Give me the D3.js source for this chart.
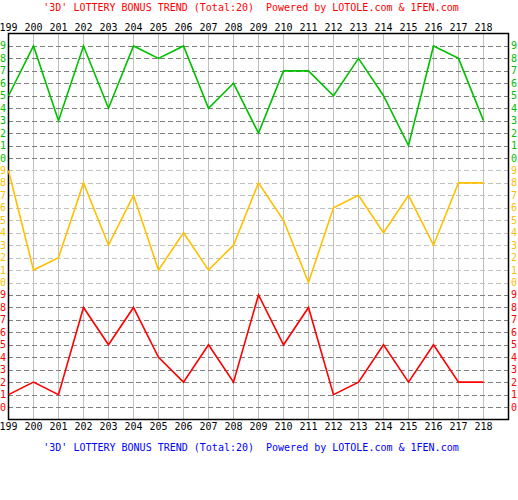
<!DOCTYPE html>
<html>
<head>
<meta charset="utf-8">
<script src="https://cdn.jsdelivr.net/npm/d3@7"></script>
<style>
  body { margin: 0; background: #fff; }
  svg { display: block; font-family: "DejaVu Sans Mono", monospace; font-size: 10px; }
</style>
</head>
<body>
<div id="chart"></div>
<script>
// draw periods and the three digit series (top, middle, bottom band)
var periods = ["199", "200", "201", "202", "203", "204", "205", "206", "207", "208",
               "209", "210", "211", "212", "213", "214", "215", "216", "217", "218"];
var digitA = [5, 9, 3, 9, 4, 9, 8, 9, 4, 6, 2, 7, 7, 5, 8, 5, 1, 9, 8, 3];
var digitB = [9, 1, 2, 8, 3, 7, 1, 4, 1, 3, 8, 5, 0, 6, 7, 4, 7, 3, 8, 8];
var digitC = [1, 2, 1, 8, 5, 8, 4, 2, 5, 2, 9, 5, 8, 1, 2, 5, 2, 5, 2, 2];
var digits = [9, 8, 7, 6, 5, 4, 3, 2, 1, 0];
var titleText = "'3D' LOTTERY BONUS TREND (Total:20)  Powered by LOTOLE.com & 1FEN.com";

var width = 518, height = 500;
var bands = [
    { values: digitA, color: "#00c000", dash: "#808080" },
    { values: digitB, color: "#ffc000", dash: "#c0c0c0" },
    { values: digitC, color: "#ff0000", dash: "#808080" }
];

// one slot per period plus an empty one on the right
var x = d3.scaleLinear().domain([0, periods.length]).range([8, 508]);
// 31 rows: border, 10 digits per band x3
var y = d3.scaleLinear().domain([0, 31]).range([33.5, 419.5]);

function row(band, v) { return band * 10 + (10 - v); }

var svg = d3.select("#chart").append("svg")
    .attr("width", width)
    .attr("height", height);

// vertical grid
svg.append("g")
    .selectAll("line")
    .data(d3.range(1, periods.length))
    .join("line")
    .attr("x1", function (i) { return x(i) + 0.5; })
    .attr("x2", function (i) { return x(i) + 0.5; })
    .attr("y1", y(0))
    .attr("y2", y(31))
    .attr("stroke", "#c0c0c0")
    .attr("stroke-width", 1);

// dashed horizontal lines + digit labels on both sides
bands.forEach(function (b, bi) {
    var g = svg.append("g");
    g.selectAll("line")
        .data(digits)
        .join("line")
        .attr("x1", x(0))
        .attr("x2", x(periods.length))
        .attr("y1", function (d) { return Math.round(y(row(bi, d))) + 0.5; })
        .attr("y2", function (d) { return Math.round(y(row(bi, d))) + 0.5; })
        .attr("stroke", b.dash)
        .attr("stroke-dasharray", "5,3");

    g.selectAll("text.left")
        .data(digits)
        .join("text")
        .attr("class", "left")
        .attr("x", 6)
        .attr("y", function (d) { return y(row(bi, d)); })
        .attr("dy", "0.35em")
        .attr("text-anchor", "end")
        .attr("fill", b.color)
        .text(function (d) { return d; });

    g.selectAll("text.right")
        .data(digits)
        .join("text")
        .attr("class", "right")
        .attr("x", 511)
        .attr("y", function (d) { return y(row(bi, d)); })
        .attr("dy", "0.35em")
        .attr("fill", b.color)
        .text(function (d) { return d; });
});

// frame
svg.append("rect")
    .attr("x", x(0) + 0.5)
    .attr("y", y(0))
    .attr("width", x(periods.length) - x(0))
    .attr("height", y(31) - y(0))
    .attr("fill", "none")
    .attr("stroke", "#000")
    .attr("stroke-width", 1.5);

// trend lines
bands.forEach(function (b, bi) {
    var line = d3.line()
        .x(function (d, i) { return x(i) + 0.5; })
        .y(function (d) { return y(row(bi, d)); });
    svg.append("path")
        .datum(b.values)
        .attr("fill", "none")
        .attr("stroke", b.color)
        .attr("stroke-width", 1.6)
        .attr("d", line);
});

// period labels top and bottom
var xTop = d3.axisTop(x)
    .tickValues(d3.range(periods.length))
    .tickFormat(function (i) { return periods[i]; })
    .tickSize(0)
    .tickPadding(0);
svg.append("g")
    .attr("transform", "translate(0,31)")
    .call(xTop)
    .call(function (g) { g.select(".domain").remove(); })
    .selectAll("text")
    .attr("dy", 0)
    .attr("fill", "#000")
    .style("font-family", "DejaVu Sans Mono, monospace")
    .style("font-size", "10px");

var xBottom = d3.axisBottom(x)
    .tickValues(d3.range(periods.length))
    .tickFormat(function (i) { return periods[i]; })
    .tickSize(0)
    .tickPadding(0);
svg.append("g")
    .attr("transform", "translate(0,430)")
    .call(xBottom)
    .call(function (g) { g.select(".domain").remove(); })
    .selectAll("text")
    .attr("dy", 0)
    .attr("fill", "#000")
    .style("font-family", "DejaVu Sans Mono, monospace")
    .style("font-size", "10px");

// titles
svg.append("text")
    .attr("x", 251)
    .attr("y", 11)
    .attr("text-anchor", "middle")
    .attr("fill", "#ff0000")
    .attr("xml:space", "preserve")
    .style("white-space", "pre")
    .text(titleText);

svg.append("text")
    .attr("x", 251)
    .attr("y", 451)
    .attr("text-anchor", "middle")
    .attr("fill", "#0000ff")
    .style("white-space", "pre")
    .text(titleText);
</script>
</body>
</html>
